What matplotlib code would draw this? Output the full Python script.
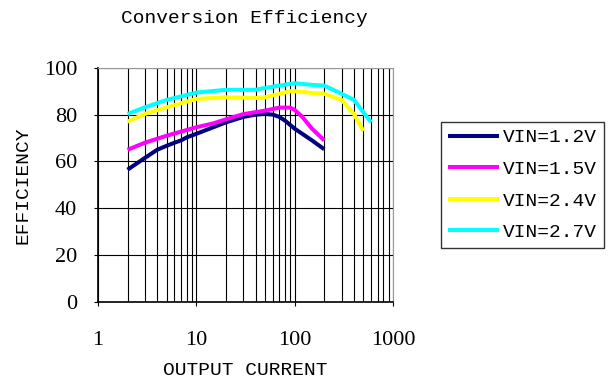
import matplotlib
matplotlib.use("Agg")
import matplotlib.pyplot as plt
from matplotlib.ticker import LogLocator, NullFormatter

plt.rcParams['font.family'] = ['Liberation Mono', 'DejaVu Sans Mono']

# efficiency curves (current, efficiency %)
cur_12 = [2, 3, 4, 5, 6, 7, 8, 10, 20, 30, 40, 50, 60, 70, 80, 100, 150, 200]
eff_12 = [56.5, 61.5, 65, 66.7, 68, 69, 70.3, 71.8, 76.7, 79, 80, 80.3, 80, 79, 77.4, 74, 69, 65.2]

cur_15 = [2, 3, 5, 10, 15, 20, 30, 50, 70, 90, 100, 120, 150, 200]
eff_15 = [65, 68, 71, 74.6, 76.3, 78, 80.2, 81.7, 83, 83, 82, 79, 74, 69]

cur_24 = [2, 3, 5, 10, 20, 40, 50, 70, 90, 100, 150, 200, 300, 400, 500]
eff_24 = [77, 80.3, 83.1, 86.7, 87.4, 87.1, 87.4, 88.9, 90, 90, 89.3, 88.9, 86.3, 80.3, 73]

cur_27 = [2, 3, 5, 10, 20, 40, 50, 70, 100, 150, 200, 300, 400, 600]
eff_27 = [80.3, 83.1, 86.3, 89.4, 90.6, 90.6, 91.4, 92.4, 93.4, 92.7, 92.4, 88.9, 86.3, 76.7]

x_ticks = [1, 10, 100, 1000]
y_ticks = [0, 20, 40, 60, 80, 100]

series = [
    ("VIN=1.2V", cur_12, eff_12, "#000080"),
    ("VIN=1.5V", cur_15, eff_15, "#ff00ff"),
    ("VIN=2.4V", cur_24, eff_24, "#ffff00"),
    ("VIN=2.7V", cur_27, eff_27, "#00ffff"),
]

fig = plt.figure(figsize=(6.16, 3.84), dpi=100)
ax = fig.add_axes([0.159, 0.2135, 0.479, 0.61])

for label, x, y, c in series:
    ax.plot(x, y, color=c, lw=2.9, label=label, solid_capstyle='butt')

ax.set_xscale('log')
ax.set_xlim(1, 1000)
ax.set_ylim(0, 100)
ax.set_yticks(y_ticks)
ax.set_xticks(x_ticks)
ax.set_xticklabels([str(v) for v in x_ticks])
ax.xaxis.set_minor_locator(LogLocator(base=10, subs=range(2, 10)))
ax.xaxis.set_minor_formatter(NullFormatter())
ax.grid(True, which='both', axis='x', color='black', lw=0.8)
ax.grid(True, which='major', axis='y', color='black', lw=0.8)
ax.tick_params(axis='x', which='minor', length=0)
ax.tick_params(axis='both', which='major', length=3, direction='out',
               labelsize=16, labelfontfamily='Liberation Serif')
ax.tick_params(axis='y', pad=12)
ax.tick_params(axis='x', pad=18)
for side in ['top', 'right']:
    ax.spines[side].set_color('#999999')
ax.spines['left'].set_linewidth(1.2)
ax.spines['bottom'].set_linewidth(1.2)

ax.set_xlabel('OUTPUT CURRENT', fontsize=14)
ax.set_ylabel('EFFICIENCY', fontsize=14)
ax.xaxis.set_label_coords(0.498, -0.256)
ax.yaxis.set_label_coords(-0.224, 0.5)
fig.text(0.397, 0.952, 'Conversion Efficiency', ha='center', va='center', fontsize=14)

leg = fig.legend(loc='upper left', bbox_to_anchor=(441 / 616, 1 - 122 / 384), borderaxespad=0,
                 fontsize=14, frameon=True, fancybox=False, edgecolor='black',
                 handlelength=2.63, handletextpad=0.2, borderpad=0.35, labelspacing=0.72)
leg.get_frame().set_linewidth(1.0)

fig.savefig('out.png', dpi=100)
